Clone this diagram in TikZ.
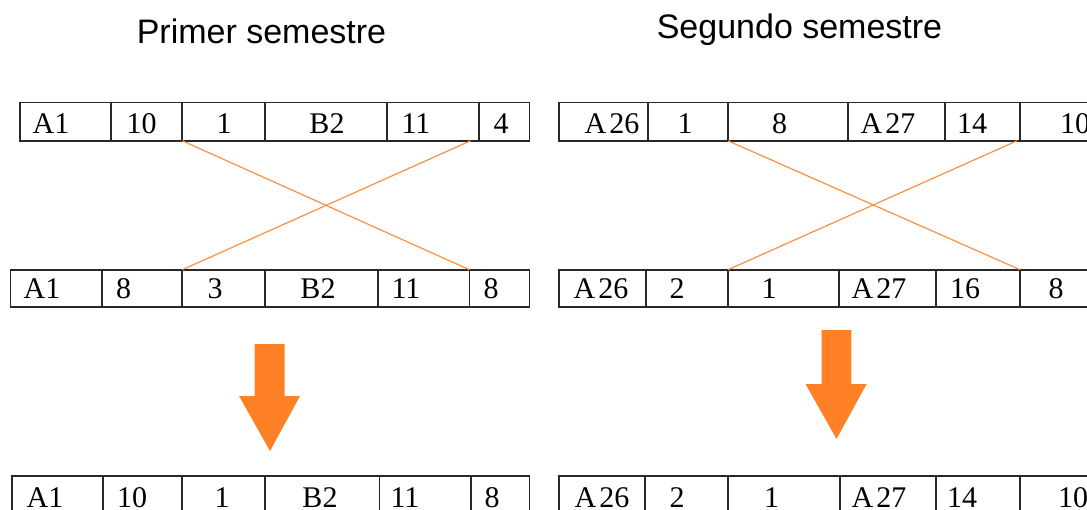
\documentclass[tikz,border=0pt]{standalone}
\usepackage{fontspec}
\setmainfont{Liberation Serif}
\newfontfamily\titlefont{Liberation Sans}
\definecolor{cellline}{RGB}{40,40,40}
\definecolor{arroworange}{RGB}{255,128,37}
\definecolor{lineorange}{RGB}{248,145,65}
\tikzset{
  cellbox/.style={draw=cellline, line width=1.7pt, inner sep=0pt, outer sep=0pt, fill=white},
  celltext/.style={inner sep=0pt, font=\fontsize{30}{32}\selectfont},
  titletext/.style={inner sep=0pt, font=\titlefont\fontsize{34}{36}\selectfont},
  xline/.style={draw=lineorange, line width=1.2pt},
  blockarrow/.style={fill=arroworange}
}
\newcommand\mycell[8]{%
  \node[cellbox, minimum width={(#3-#2)*1pt}, minimum height={(#5-#4)*1pt}] (#1) at ({(#2+#3)/2},{(#4+#5)/2}) {};
  \node[celltext, anchor=base] (#1t) at (#6,#8) {#7};
}
\begin{document}
\begin{tikzpicture}[x=1pt,y=-1pt]
\useasboundingbox (0,0) rectangle (1087,509);
% titles
\node[titletext, anchor=base] (t1) at (261.5,43) {Primer semestre};
\node[titletext, anchor=base] (t2) at (799.5,38) {Segundo semestre};
% row 1 left
\mycell{l1a}{19.8}{111}{102.6}{140.8}{51}{A1}{133}
\mycell{l1b}{111}{182.3}{102.6}{140.8}{141.5}{10}{133}
\mycell{l1c}{182.3}{265}{102.6}{140.8}{224}{1}{133}
\mycell{l1d}{265}{387}{102.6}{140.8}{327}{B2}{133}
\mycell{l1e}{387}{479}{102.6}{140.8}{416}{11}{133}
\mycell{l1f}{479}{529.5}{102.6}{140.8}{501}{4}{133}
% row 1 right
\mycell{r1a}{559}{648}{102.6}{140.8}{612}{A\kern3pt26}{133}
\mycell{r1b}{648}{728}{102.6}{140.8}{685}{1}{133}
\mycell{r1c}{728}{848}{102.6}{140.8}{779.5}{8}{133}
\mycell{r1d}{848}{945}{102.6}{140.8}{888}{A\kern3pt27}{133}
\mycell{r1e}{945}{1020}{102.6}{140.8}{972}{14}{133}
\mycell{r1f}{1020}{1100}{102.6}{140.8}{1075}{10}{133}
% row 2 left
\mycell{l2a}{10.4}{101.7}{269.7}{306.9}{42}{A1}{298.5}
\mycell{l2b}{101.7}{182.3}{269.7}{306.9}{123.7}{8}{298.5}
\mycell{l2c}{182.3}{265}{269.7}{306.9}{215}{3}{298.5}
\mycell{l2d}{265}{377.8}{269.7}{306.9}{318}{B2}{298.5}
\mycell{l2e}{377.8}{469.4}{269.7}{306.9}{406}{11}{298.5}
\mycell{l2f}{469.4}{529.5}{269.7}{306.9}{491}{8}{298.5}
% row 2 right
\mycell{r2a}{559}{645.7}{269.7}{306.9}{601}{A\kern3pt26}{298.5}
\mycell{r2b}{645.7}{728}{269.7}{306.9}{677}{2}{298.5}
\mycell{r2c}{728}{839}{269.7}{306.9}{769}{1}{298.5}
\mycell{r2d}{839}{936}{269.7}{306.9}{879}{A\kern3pt27}{298.5}
\mycell{r2e}{936}{1020}{269.7}{306.9}{965}{16}{298.5}
\mycell{r2f}{1020}{1100}{269.7}{306.9}{1056}{8}{298.5}
% row 3 left
\mycell{l3a}{12}{103}{476}{525}{45}{A1}{507}
\mycell{l3b}{103}{182.3}{476}{525}{132}{10}{507}
\mycell{l3c}{182.3}{265}{476}{525}{222}{1}{507}
\mycell{l3d}{265}{379.5}{476}{525}{320}{B2}{507}
\mycell{l3e}{379.5}{471}{476}{525}{405}{11}{507}
\mycell{l3f}{471}{529.5}{476}{525}{492}{8}{507}
% row 3 right
\mycell{r3a}{559}{644.7}{476}{525}{602}{A\kern3pt26}{507}
\mycell{r3b}{644.7}{728}{476}{525}{677}{2}{507}
\mycell{r3c}{728}{840}{476}{525}{771.5}{1}{507}
\mycell{r3d}{840}{936}{476}{525}{879}{A\kern3pt27}{507}
\mycell{r3e}{936}{1020}{476}{525}{962}{14}{507}
\mycell{r3f}{1020}{1100}{476}{525}{1073}{10}{507}
% crossing lines
\coordinate (lx) at (470.5,140.8);
\coordinate (rx) at (1017,140.8);
\draw[xline] (l1c.south west) -- (l2f.north west);
\draw[xline] (lx) -- (l2c.north west);
\draw[xline] (r1c.south west) -- (r2f.north west);
\draw[xline] (rx) -- (r2c.north west);
% block arrows
\fill[blockarrow] (254.5,344) -- (284.5,344) -- (284.5,396) -- (300,396) -- (270,451) -- (239,396) -- (254.5,396) -- cycle;
\fill[blockarrow] (821.7,330) -- (851.4,330) -- (851.4,384) -- (866.6,384) -- (836.5,439) -- (805.5,384) -- (821.7,384) -- cycle;
\end{tikzpicture}
\end{document}
